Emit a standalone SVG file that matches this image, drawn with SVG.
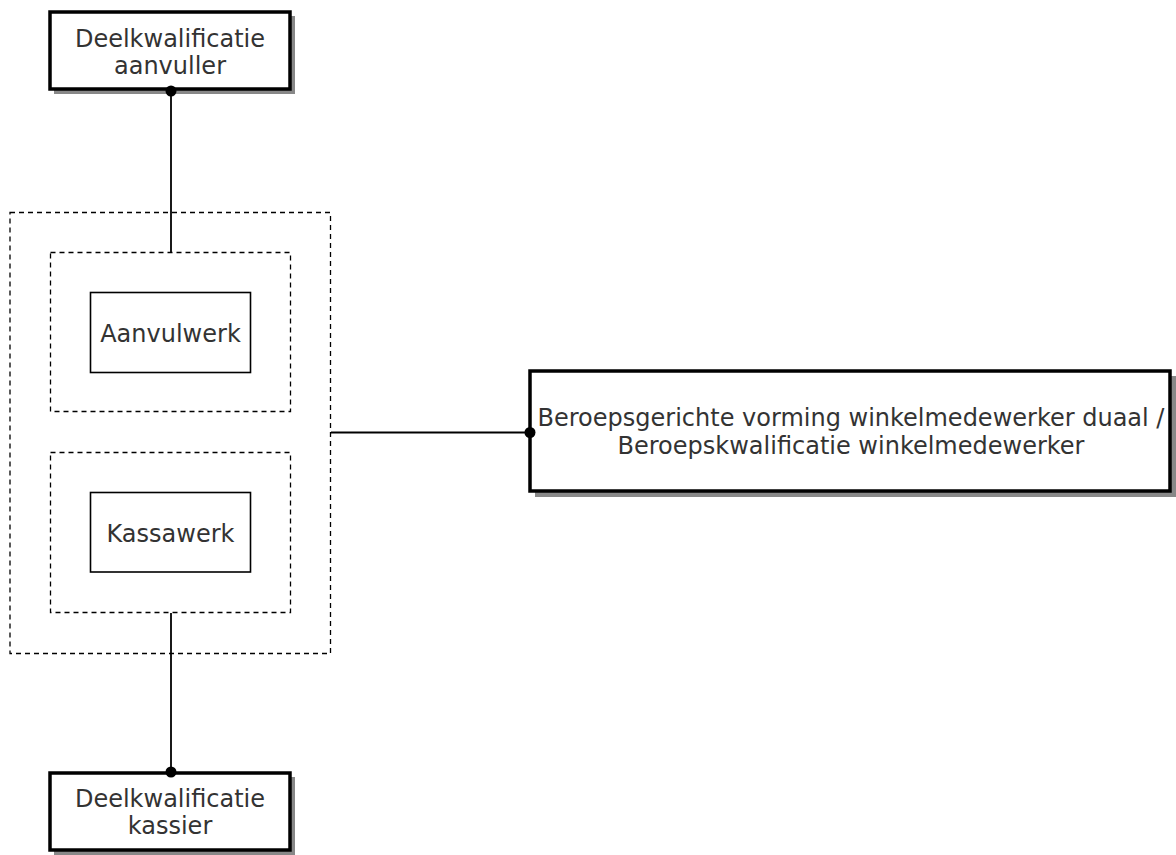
<svg xmlns="http://www.w3.org/2000/svg" width="1176" height="855" viewBox="0 0 1176 855">
<defs>
<style>
.txt{font-family:"DejaVu Sans",Verdana,sans-serif;font-size:24px;fill:#333;text-anchor:middle}
.main{fill:#fff;stroke:#000;stroke-width:3.5}
.shadow{fill:#888}
.dash{fill:none;stroke:#000;stroke-width:1.3;stroke-dasharray:5 4}
.inner{fill:#fff;stroke:#000;stroke-width:1.6}
.conn{fill:none;stroke:#000;stroke-width:1.8}
.dot{fill:#000}
</style>
</defs>
<rect width="1176" height="855" fill="#fff"/>
<g id="group-outer"><rect class="dash" x="10" y="212.5" width="320.5" height="441"/></g>
<g id="group-aanvul"><rect class="dash" x="50.5" y="252.5" width="240" height="159"/></g>
<g id="group-kassa"><rect class="dash" x="50.5" y="452.5" width="240" height="160"/></g>
<g id="node-aanvulwerk">
<rect class="inner" x="90.5" y="292.5" width="160" height="80"/>
<text class="txt" x="170.5" y="342">Aanvulwerk</text>
</g>
<g id="node-kassawerk">
<rect class="inner" x="90.5" y="492.5" width="160" height="79.5"/>
<text class="txt" x="170.5" y="542">Kassawerk</text>
</g>
<g id="node-dk-aanvuller">
<rect class="shadow" x="54" y="16" width="241" height="78"/>
<rect class="main" x="50" y="12" width="240" height="77"/>
<text class="txt" x="170" y="47">Deelkwalificatie</text>
<text class="txt" x="170" y="74">aanvuller</text>
</g>
<g id="node-dk-kassier">
<rect class="shadow" x="54" y="777" width="241" height="78"/>
<rect class="main" x="50" y="773" width="240" height="77"/>
<text class="txt" x="170" y="807">Deelkwalificatie</text>
<text class="txt" x="170" y="834">kassier</text>
</g>
<g id="node-beroeps">
<rect class="shadow" x="535" y="376" width="641" height="121"/>
<rect class="main" x="530" y="371" width="640" height="120"/>
<text class="txt" x="851" y="426">Beroepsgerichte vorming winkelmedewerker duaal /</text>
<text class="txt" x="851" y="454">Beroepskwalificatie winkelmedewerker</text>
</g>
<g id="connectors">
<line class="conn" x1="171" y1="91" x2="171" y2="252"/>
<circle class="dot" cx="171" cy="91" r="5.5"/>
<line class="conn" x1="171" y1="613" x2="171" y2="772"/>
<circle class="dot" cx="171" cy="772" r="5.5"/>
<line class="conn" x1="331" y1="432.5" x2="530" y2="432.5"/>
<circle class="dot" cx="530" cy="432.5" r="5.5"/>
</g>
</svg>
